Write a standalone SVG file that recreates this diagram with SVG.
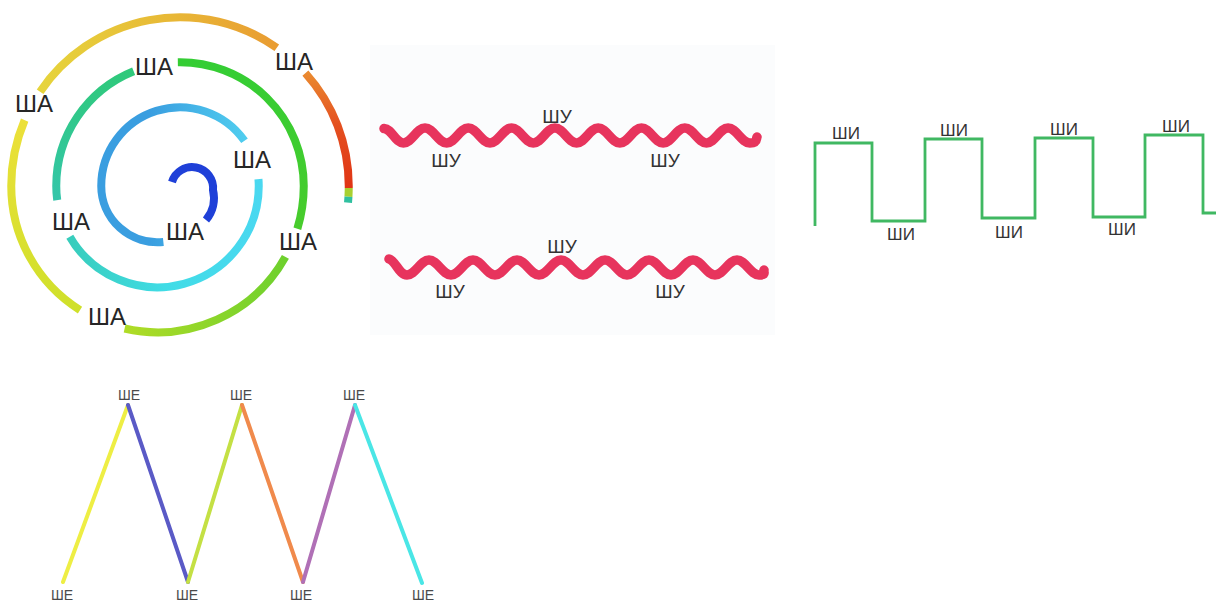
<svg xmlns="http://www.w3.org/2000/svg" width="1216" height="603" viewBox="0 0 1216 603">
<style>
.ring{fill:none;stroke-width:8;stroke-linecap:butt}
.lbl{font-family:"Liberation Sans",Arial,sans-serif;fill:#262626;text-anchor:middle}
.sha{font-size:24px}
.shu{font-size:19px;fill:#333}
.shi{font-size:17px;fill:#333}
.she{font-size:14px;fill:#4a4a4a}
.wave{fill:none;stroke:#e7345d;stroke-width:9.5;stroke-linecap:round;stroke-linejoin:round}
.sq{fill:none;stroke:#40b862;stroke-width:2.8;stroke-linejoin:miter}
.zz{fill:none;stroke-width:4;stroke-linecap:round}
</style>
<defs>
<linearGradient id="gLB" gradientUnits="userSpaceOnUse" x1="150" y1="0" x2="245" y2="0"><stop offset="0" stop-color="#3a9ee0"/><stop offset="1" stop-color="#50cdef"/></linearGradient>
<linearGradient id="gCY" gradientUnits="userSpaceOnUse" x1="260" y1="0" x2="70" y2="0"><stop offset="0" stop-color="#4ad8f0"/><stop offset="0.5" stop-color="#40dce6"/><stop offset="1" stop-color="#38cdbc"/></linearGradient>
<linearGradient id="gTE" gradientUnits="userSpaceOnUse" x1="0" y1="200" x2="0" y2="70"><stop offset="0" stop-color="#34c6aa"/><stop offset="1" stop-color="#2fc97a"/></linearGradient>
<linearGradient id="gGR" gradientUnits="userSpaceOnUse" x1="0" y1="60" x2="0" y2="230"><stop offset="0" stop-color="#34cd34"/><stop offset="1" stop-color="#48cc2c"/></linearGradient>
<linearGradient id="gYG" gradientUnits="userSpaceOnUse" x1="290" y1="0" x2="120" y2="0"><stop offset="0" stop-color="#6cd02e"/><stop offset="1" stop-color="#b2dc26"/></linearGradient>
<linearGradient id="gYE" gradientUnits="userSpaceOnUse" x1="0" y1="311" x2="0" y2="120"><stop offset="0" stop-color="#cfe02a"/><stop offset="1" stop-color="#ece03a"/></linearGradient>
<linearGradient id="gOR" gradientUnits="userSpaceOnUse" x1="40" y1="0" x2="277" y2="0"><stop offset="0" stop-color="#e6d43c"/><stop offset="0.55" stop-color="#e8b836"/><stop offset="1" stop-color="#e99c32"/></linearGradient>
<linearGradient id="gRD" gradientUnits="userSpaceOnUse" x1="0" y1="73" x2="0" y2="188"><stop offset="0" stop-color="#ea8a30"/><stop offset="0.45" stop-color="#e45020"/><stop offset="1" stop-color="#e03414"/></linearGradient>
</defs>
<rect width="1216" height="603" fill="#ffffff"/>
<rect x="370" y="45" width="405" height="290" fill="#fbfcfd"/>

<g id="spiral">
<path class="ring" stroke="#1f40d8" stroke-width="10.5" d="M172 182 A21 21 0 0 1 213 190 A34 34 0 0 1 206 220"/>
<path class="ring" stroke="url(#gLB)" d="M163.38 241.94 A56.25 56.25 0 0 1 101.25 186 A78.75 78.75 0 0 1 244.51 140.83"/>
<path class="ring" stroke="url(#gCY)" d="M258.45 179.14 A78.75 78.75 0 0 1 258.75 186 A101.25 101.25 0 0 1 69.81 236.63"/>
<path class="ring" stroke="url(#gTE)" d="M57.23 200.09 A101.25 101.25 0 0 1 56.25 186 A123.75 123.75 0 0 1 133.64 71.26"/>
<path class="ring" stroke="url(#gGR)" d="M177.84 62.27 A123.75 123.75 0 0 1 303.75 186 A146.25 146.25 0 0 1 297.36 228.76"/>
<path class="ring" stroke="url(#gYG)" d="M285.41 256.9 A146.25 146.25 0 0 1 124.6 328.5"/>
<path class="ring" stroke="url(#gYE)" d="M80.0 310.02 A146.25 146.25 0 0 1 11.25 186 A168.75 168.75 0 0 1 24.66 120.07"/>
<path class="ring" stroke="url(#gOR)" d="M40.1 91.64 A168.75 168.75 0 0 1 276.79 47.76"/>
<path class="ring" stroke="url(#gRD)" d="M305.4 73.09 A168.75 168.75 0 0 1 348.75 186 A191.25 191.25 0 0 1 348.74 188"/>
<path class="ring" stroke="#a8d030" d="M348.74 188 A191.25 191.25 0 0 1 348.45 196.7"/>
<path class="ring" stroke="#30c0a0" d="M348.45 196.7 A191.25 191.25 0 0 1 348 202.7"/>
<text class="lbl sha" x="294" y="70">ША</text>
<text class="lbl sha" x="154" y="75">ША</text>
<text class="lbl sha" x="34" y="112">ША</text>
<text class="lbl sha" x="252" y="168">ША</text>
<text class="lbl sha" x="71" y="230">ША</text>
<text class="lbl sha" x="185" y="240">ША</text>
<text class="lbl sha" x="298" y="250">ША</text>
<text class="lbl sha" x="107" y="325">ША</text>
</g>

<g id="wave1">
<path class="wave" d="M384 128.5 C392 129, 395.4 143, 403.4 143 S417 128, 425 128 S438.7 143, 446.7 143 S460.3 128, 468.3 128 S482 143, 490 143 S503.6 128, 511.6 128 S525.3 143, 533.3 143 S546.9 128, 554.9 128 S568.6 143, 576.6 143 S590.2 128, 598.2 128 S611.9 143, 619.9 143 S633.5 128, 641.5 128 S655.2 143, 663.2 143 S676.8 128, 684.8 128 S698.5 143, 706.5 143 S720.1 128, 728.1 128 S741.8 143, 749.8 143 S756 139, 757 137"/>
<text class="lbl shu" x="557" y="123">ШУ</text>
<text class="lbl shu" x="446" y="167">ШУ</text>
<text class="lbl shu" x="665" y="167">ШУ</text>
</g>

<g id="wave2">
<path class="wave" d="M389 259 C396 261, 399 275, 407 275 S421 260, 429 260 S443 275, 451 275 S465 260, 473 260 S487 275, 495 275 S509 260, 517 260 S531 275, 539 275 S553 260, 561 260 S575 275, 583 275 S597 260, 605 260 S619 275, 627 275 S641 260, 649 260 S663 275, 671 275 S685 260, 693 260 S707 275, 715 275 S729 260, 737 260 S751 275, 759 275 S763 272, 764 270"/>
<text class="lbl shu" x="562" y="253">ШУ</text>
<text class="lbl shu" x="450" y="298">ШУ</text>
<text class="lbl shu" x="670" y="298">ШУ</text>
</g>

<g id="square">
<path class="sq" d="M815 226 V143 H872 V221 H925 V139 H982 V218 H1035 V138 H1093 V217 H1145 V135 H1203 V213 H1216"/>
<text class="lbl shi" x="846" y="139">ШИ</text>
<text class="lbl shi" x="954" y="136">ШИ</text>
<text class="lbl shi" x="1064" y="135">ШИ</text>
<text class="lbl shi" x="1176" y="132">ШИ</text>
<text class="lbl shi" x="901" y="240">ШИ</text>
<text class="lbl shi" x="1009" y="238">ШИ</text>
<text class="lbl shi" x="1122" y="235">ШИ</text>
</g>

<g id="zigzag">
<line class="zz" stroke="#eeee44" x1="63" y1="582" x2="128" y2="405"/>
<line class="zz" stroke="#5a5ac6" x1="128" y1="405" x2="188" y2="582"/>
<line class="zz" stroke="#c4e044" x1="188" y1="582" x2="242" y2="405"/>
<line class="zz" stroke="#f08a4c" x1="242" y1="405" x2="303" y2="582"/>
<line class="zz" stroke="#b070b6" x1="303" y1="582" x2="355" y2="405"/>
<line class="zz" stroke="#4ae6e6" x1="355" y1="405" x2="422" y2="583"/>
<text class="lbl she" x="129" y="400">ШЕ</text>
<text class="lbl she" x="241" y="400">ШЕ</text>
<text class="lbl she" x="354" y="400">ШЕ</text>
<text class="lbl she" x="62" y="600">ШЕ</text>
<text class="lbl she" x="187" y="600">ШЕ</text>
<text class="lbl she" x="301" y="600">ШЕ</text>
<text class="lbl she" x="423" y="600">ШЕ</text>
</g>
</svg>
